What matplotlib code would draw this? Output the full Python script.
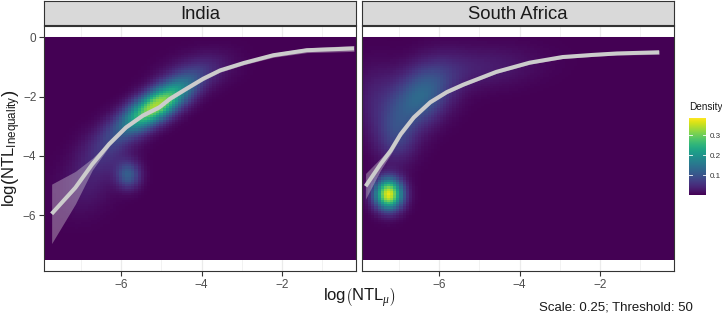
import numpy as np
import matplotlib
matplotlib.use("Agg")
import matplotlib.pyplot as plt

plt.rcParams["font.family"] = ["Liberation Sans", "DejaVu Sans"]
plt.rcParams["mathtext.fontset"] = "custom"
plt.rcParams["mathtext.rm"] = "Liberation Sans"
plt.rcParams["mathtext.it"] = "Liberation Serif:italic"

countries = ["India", "South Africa"]

# density blobs: centre x/y, sd x/y, correlation, height
india_cx = [-5.15, -5.84, -6.4, -4.1, -6.9]
india_cy = [-2.3, -4.65, -3.8, -1.1, -5.0]
india_sx = [0.6, 0.21, 0.45, 0.6, 0.5]
india_sy = [0.6, 0.32, 0.6, 0.45, 0.7]
india_rho = [0.74, 0.0, 0.3, 0.3, 0.2]
india_amp = [0.335, 0.11, 0.05, 0.035, 0.025]

sa_cx = [-7.29, -6.5, -7.1, -5.0, -7.6]
sa_cy = [-5.3, -2.0, -3.4, -1.0, -2.0]
sa_sx = [0.24, 0.55, 0.35, 1.0, 0.4]
sa_sy = [0.36, 0.75, 0.6, 0.5, 0.8]
sa_rho = [0.0, 0.4, 0.0, 0.2, 0.0]
sa_amp = [0.37, 0.13, 0.06, 0.03, 0.03]

# smoothed fit (loess) and the half width of its band
india_fit_x = [-7.73, -7.14, -6.72, -6.30, -5.88, -5.46, -5.05, -4.79, -4.38,
               -3.96, -3.54, -2.95, -2.22, -1.38, -0.21]
india_fit_y = [-5.95, -5.07, -4.28, -3.60, -3.04, -2.64, -2.36, -2.08, -1.74,
               -1.40, -1.12, -0.87, -0.61, -0.44, -0.38]
india_band = [1.0, 0.55, 0.2, 0.08, 0.06, 0.06, 0.06, 0.06, 0.06,
              0.06, 0.06, 0.06, 0.07, 0.08, 0.1]

sa_fit_x = [-7.83, -7.46, -7.21, -6.96, -6.63, -6.22, -5.81, -5.40, -4.58,
            -3.75, -2.93, -2.2, -1.58, -0.53]
sa_fit_y = [-5.02, -4.28, -3.83, -3.27, -2.70, -2.19, -1.85, -1.60, -1.17,
            -0.86, -0.67, -0.6, -0.55, -0.51]
sa_band = [0.43, 0.2, 0.12, 0.09, 0.07, 0.06, 0.05, 0.05, 0.05,
           0.05, 0.05, 0.05, 0.05, 0.07]

xlim = (-7.92, -0.16)
ylim_raster = (-7.5, 0.0)
vmax = 0.385

W, H = 722, 315
fig = plt.figure(figsize=(W / 100, H / 100), dpi=100)


def box(l, t, r, b):
    return [l / W, 1 - b / H, (r - l) / W, (b - t) / H]


def density(cx, cy, sx, sy, rho, amp):
    gx = np.linspace(xlim[0], xlim[1], 100)
    gy = np.linspace(ylim_raster[0], ylim_raster[1], 100)
    X, Y = np.meshgrid(gx, gy)
    z = np.zeros_like(X)
    for i in range(len(cx)):
        dx = (X - cx[i]) / sx[i]
        dy = (Y - cy[i]) / sy[i]
        q = (dx ** 2 - 2 * rho[i] * dx * dy + dy ** 2) / (1 - rho[i] ** 2)
        z += amp[i] * np.exp(-q / 2)
    return z


dens = [density(india_cx, india_cy, india_sx, india_sy, india_rho, india_amp),
        density(sa_cx, sa_cy, sa_sx, sa_sy, sa_rho, sa_amp)]
fits = [(india_fit_x, india_fit_y, india_band), (sa_fit_x, sa_fit_y, sa_band)]

panels = [(44, 356), (362, 674)]
top, bottom = 26, 271
dark = "#333333"

for k, (l, r) in enumerate(panels):
    ax = fig.add_axes(box(l, top, r, bottom))
    ax.imshow(dens[k], extent=[xlim[0], xlim[1], ylim_raster[0], ylim_raster[1]],
              origin="lower", aspect="auto", cmap="viridis", vmin=0, vmax=vmax,
              interpolation="nearest", zorder=1)
    fx, fy, fb = fits[k]
    fx = np.array(fx); fy = np.array(fy); fb = np.array(fb)
    ax.fill_between(fx, fy - fb, fy + fb, color="#E5E5E5", alpha=0.35,
                    lw=0, zorder=2)
    ax.plot(fx, fy, color="#CCCCCC", lw=2.9, solid_capstyle="butt",
            solid_joinstyle="round", zorder=3)
    ax.set_xlim(*xlim)
    ax.set_ylim(-7.875, 0.375)
    ax.set_xticks([-6, -4, -2])
    ax.set_xticks([-7, -5, -3, -1], minor=True)
    ax.set_yticks([0, -2, -4, -6])
    ax.set_yticks([-1, -3, -5, -7], minor=True)
    ax.set_xticklabels(["\u22126", "\u22124", "\u22122"])
    ax.set_yticklabels(["0", "\u22122", "\u22124", "\u22126"])
    ax.set_axisbelow(True)
    ax.grid(which="major", color="#EBEBEB", lw=0.9)
    ax.grid(which="minor", color="#EBEBEB", lw=0.45)
    for s in ax.spines.values():
        s.set_color(dark)
        s.set_linewidth(0.8)
    ax.tick_params(which="major", length=3.5, width=0.8, color=dark,
                   labelcolor="#4D4D4D", labelsize=8.5, pad=2)
    ax.tick_params(which="minor", length=0)
    if k == 1:
        ax.tick_params(axis="y", which="both", left=False, labelleft=False)

    sax = fig.add_axes(box(l, 1, r, 25))
    sax.set_facecolor("#D9D9D9")
    sax.set_xticks([]); sax.set_yticks([])
    for s in sax.spines.values():
        s.set_color(dark)
        s.set_linewidth(0.8)
    sax.text(0.5, 0.45, countries[k], ha="center", va="center", fontsize=13.3,
             color="#1A1A1A", transform=sax.transAxes)

# legend colorbar
cax = fig.add_axes(box(689, 118, 706, 195))
grad = np.linspace(0, vmax, 256).reshape(-1, 1)
cax.imshow(grad, extent=[0, 1, 0, vmax], origin="lower", aspect="auto",
           cmap="viridis", vmin=0, vmax=vmax)
cax.set_xlim(0, 1); cax.set_ylim(0, vmax)
for s in cax.spines.values():
    s.set_visible(False)
cax.set_xticks([])
cax.set_yticks([0.1, 0.2, 0.3])
cax.set_yticklabels(["0.1", "0.2", "0.3"])
cax.yaxis.tick_right()
cax.tick_params(axis="y", length=0, labelsize=5.8, labelcolor="#333333", pad=3)
for t in [0.1, 0.2, 0.3]:
    cax.plot([0, 0.2], [t, t], color="white", lw=0.6)
    cax.plot([0.8, 1], [t, t], color="white", lw=0.6)
fig.text(689 / W, 1 - 107 / H, "Density", ha="left", va="center", fontsize=7.2,
         color="#1A1A1A")

fig.text(12 / W, 1 - 148 / H,
         r"$\mathrm{log}\left(\mathrm{NTL}_{\mathrm{Inequality}}\right)$",
         rotation=90, ha="center", va="center", fontsize=12, color="#1A1A1A")
fig.text(359 / W, 1 - 298 / H, r"$\mathrm{log}\left(\mathrm{NTL}_{\mu}\right)$",
         ha="center", va="center", fontsize=12, color="#1A1A1A")
fig.text(693 / W, 1 - 308 / H, "Scale: 0.25; Threshold: 50", ha="right",
         va="center", fontsize=9.5, color="#1A1A1A")

fig.savefig("out.png", dpi=100)
